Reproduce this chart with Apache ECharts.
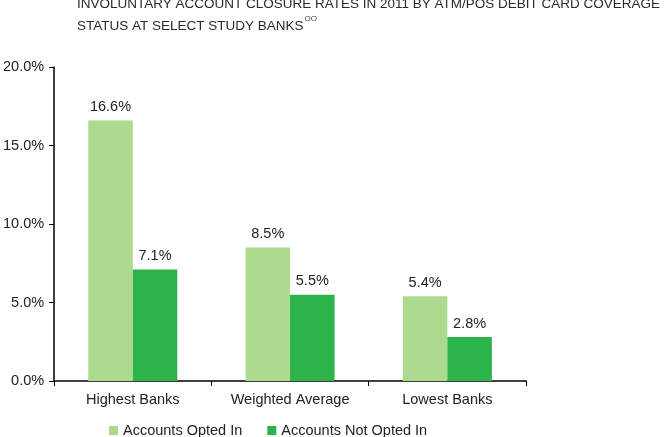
<!DOCTYPE html>
<html><head><meta charset="utf-8">
<script src="https://cdn.jsdelivr.net/npm/echarts@6/dist/echarts.min.js"></script>
<style>html,body{margin:0;padding:0;background:#fff}#c{width:664px;height:437px}</style>
</head><body><div id="c"></div>
<script>
const categories = ['Highest Banks', 'Weighted Average', 'Lowest Banks'];
const optedIn = [16.6, 8.5, 5.4];
const notOptedIn = [7.1, 5.5, 2.8];
const yTicks = [0, 5, 10, 15, 20];

const chart = echarts.init(document.getElementById('c'));
const font = 'Liberation Sans, Arial, sans-serif';
const fs = 14.5;
chart.setOption({
  animation: false,
  textStyle: {fontFamily: font},
  title: {
    left: 77, top: -7, padding: 0,
    text: 'INVOLUNTARY ACCOUNT CLOSURE RATES IN 2011 BY ATM/POS DEBIT CARD COVERAGE\nSTATUS AT SELECT STUDY BANKS{s|OO}',
    textStyle: {fontSize: 13.5, fontWeight: 'normal', color: '#2a2a2a', lineHeight: 22, fontFamily: font,
      rich: {s: {fontSize: 8, verticalAlign: 'top', padding: [0,0,10,1], color: '#444', lineHeight: 22}}}
  },
  legend: {
    left: 104, top: 418, itemGap: 25, itemWidth: 9, itemHeight: 9, icon: 'rect',
    textStyle: {fontSize: fs, color: '#222'}
  },
  grid: {left: 53, right: 138, top: 67, bottom: 56},
  xAxis: {
    type: 'category', data: categories,
    axisLine: {lineStyle: {color: '#000', width: 1.5}},
    axisTick: {show: true, length: 5, lineStyle: {color: '#000'}},
    axisLabel: {fontSize: fs, color: '#222', margin: 11}
  },
  yAxis: {
    type: 'value', min: yTicks[0], max: yTicks[yTicks.length-1], interval: 5,
    axisLine: {show: true, lineStyle: {color: '#000', width: 1.5}},
    axisTick: {show: true, length: 5, lineStyle: {color: '#000'}},
    splitLine: {show: false},
    axisLabel: {fontSize: fs, color: '#222', margin: 10, formatter: v => v.toFixed(1) + '%'}
  },
  series: [
    {name: 'Accounts Opted In', type: 'bar', data: optedIn, barWidth: '28.3%', barGap: '0%',
     itemStyle: {color: '#acdb8f'},
     label: {show: true, position: 'top', distance: 6, fontSize: fs, color: '#222', formatter: p => p.value.toFixed(1) + '%'}},
    {name: 'Accounts Not Opted In', type: 'bar', data: notOptedIn, barWidth: '28.3%',
     itemStyle: {color: '#2db34b'},
     label: {show: true, position: 'top', distance: 6, fontSize: fs, color: '#222', formatter: p => p.value.toFixed(1) + '%'}}
  ]
});
</script></body></html>
